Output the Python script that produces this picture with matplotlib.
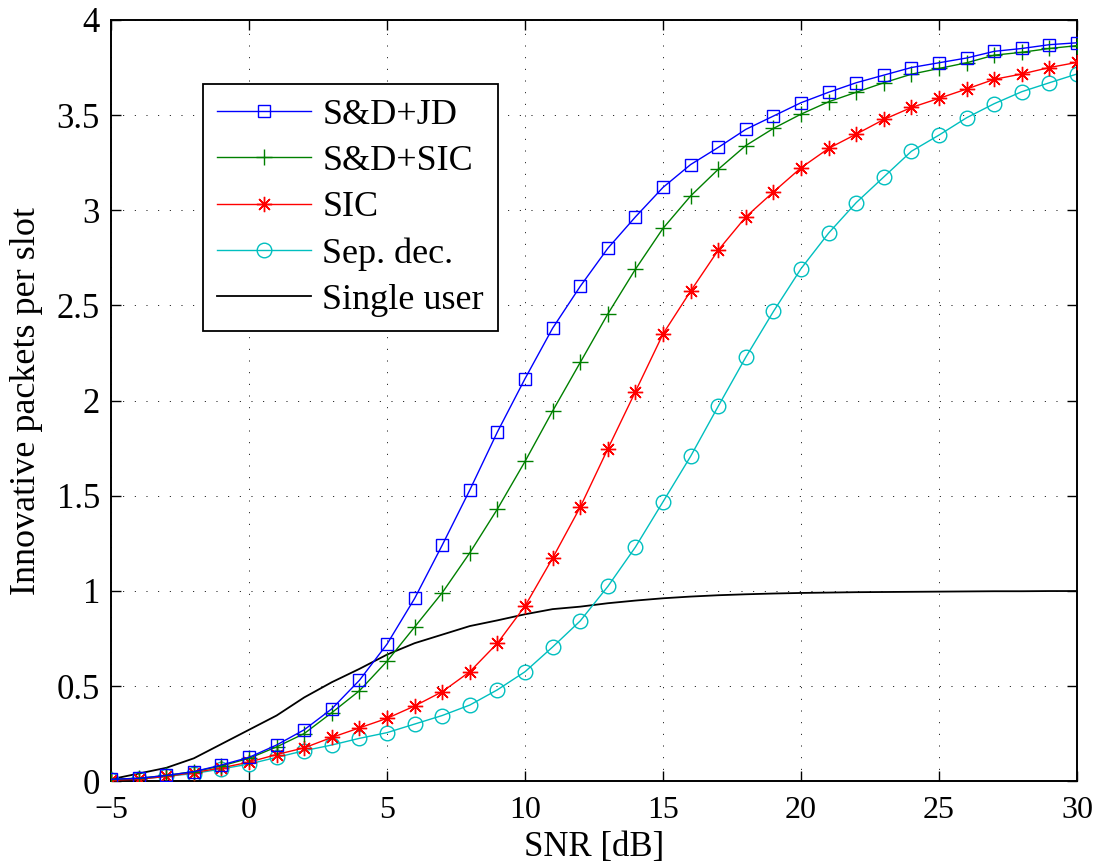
import matplotlib
matplotlib.use("Agg")
import matplotlib.pyplot as plt
import numpy as np

plt.rcParams['font.family'] = ['Liberation Serif', 'DejaVu Serif']
plt.rcParams['mathtext.fontset'] = 'stix'

snr = list(range(-5, 31))

sd_jd = [0.01, 0.015, 0.03, 0.05, 0.085, 0.125, 0.19, 0.27, 0.38, 0.53, 0.72, 0.96,
         1.24, 1.53, 1.835, 2.115, 2.38, 2.60, 2.80, 2.965, 3.12, 3.24, 3.33, 3.425,
         3.495, 3.565, 3.62, 3.67, 3.71, 3.75, 3.775, 3.80, 3.835, 3.85, 3.87, 3.88]

sd_sic = [0.01, 0.015, 0.03, 0.05, 0.08, 0.12, 0.18, 0.25, 0.36, 0.475, 0.63, 0.81,
          0.99, 1.20, 1.43, 1.68, 1.945, 2.20, 2.455, 2.69, 2.905, 3.075, 3.215, 3.34,
          3.43, 3.505, 3.57, 3.62, 3.67, 3.715, 3.745, 3.775, 3.815, 3.83, 3.85, 3.865]

sic = [0.005, 0.01, 0.025, 0.045, 0.07, 0.10, 0.14, 0.175, 0.23, 0.28, 0.33, 0.395,
       0.47, 0.575, 0.725, 0.92, 1.172, 1.44, 1.746, 2.047, 2.35, 2.575, 2.79, 2.965,
       3.096, 3.223, 3.325, 3.40, 3.477, 3.54, 3.588, 3.637, 3.688, 3.716, 3.75, 3.777]

sep_dec = [0.005, 0.01, 0.025, 0.04, 0.064, 0.09, 0.125, 0.16, 0.19, 0.225, 0.255, 0.30,
           0.345, 0.40, 0.48, 0.575, 0.705, 0.842, 1.023, 1.23, 1.468, 1.707, 1.97, 2.228,
           2.468, 2.693, 2.88, 3.04, 3.175, 3.31, 3.395, 3.486, 3.56, 3.623, 3.67, 3.716]

single_user = [0.01, 0.04, 0.07, 0.12, 0.195, 0.27, 0.345, 0.44, 0.52, 0.59, 0.665, 0.725,
               0.77, 0.815, 0.845, 0.877, 0.904, 0.917, 0.935, 0.949, 0.961, 0.97, 0.977,
               0.982, 0.986, 0.989, 0.991, 0.993, 0.994, 0.995, 0.996, 0.997, 0.998, 0.998,
               0.999, 0.999]

xticks = [-5, 0, 5, 10, 15, 20, 25, 30]
yticks = [0, 0.5, 1, 1.5, 2, 2.5, 3, 3.5, 4]
ytick_labels = ['0', '0.5', '1', '1.5', '2', '2.5', '3', '3.5', '4']

fig = plt.figure(figsize=(10.99, 8.67), dpi=100)
ax = fig.add_axes([0.101, 0.099, 0.879, 0.878])

asterisk = (8, 2, 0)
ax.plot(snr, sd_jd, color=(0, 0, 1), lw=1.0, marker='s', ms=9, mfc='none', mew=1.0,
        label='S&D+JD', zorder=5)
ax.plot(snr, sd_sic, color=(0, 0.5, 0), lw=1.0, marker='+', ms=11, mew=1.0,
        label='S&D+SIC', zorder=4)
ax.plot(snr, sic, color=(1, 0, 0), lw=1.0, marker=asterisk, ms=11, mew=1.0,
        label='SIC', zorder=3)
ax.plot(snr, sep_dec, color=(0, 0.75, 0.75), lw=1.0, marker='o', ms=10.5, mfc='none', mew=1.0,
        label='Sep. dec.', zorder=2)
ax.plot(snr, single_user, color='black', lw=1.3, label='Single user', zorder=1)

ax.set_xlim(-5, 30)
ax.set_ylim(0, 4)
ax.set_xticks(xticks)
ax.set_xticklabels(['\u22125' if t < 0 else str(t) for t in xticks])
ax.set_yticks(yticks)
ax.set_yticklabels(ytick_labels)

ax.tick_params(axis='x', labelsize=23, pad=11)
ax.tick_params(axis='y', labelsize=25, pad=8)
ax.tick_params(direction='in', length=7, width=1.0, top=True, right=True, color='black')

ax.grid(True, color='black', linestyle=(0, (1, 11)), linewidth=0.7)
ax.set_axisbelow(True)
for s in ax.spines.values():
    s.set_linewidth(1.4)
    s.set_color('black')

ax.set_xlabel('SNR [dB]', fontsize=25, labelpad=4)
ax.set_ylabel('Innovative packets per slot', fontsize=26, labelpad=10)

leg = ax.legend(loc='upper left', bbox_to_anchor=(0.0952, 0.916), borderaxespad=0,
                fontsize=26, frameon=True, fancybox=False, framealpha=1,
                edgecolor='black', handlelength=2.6, handletextpad=0.3,
                labelspacing=0.36, borderpad=0.4)
leg.get_frame().set_linewidth(1.3)

fig.savefig('out.png', dpi=100)
